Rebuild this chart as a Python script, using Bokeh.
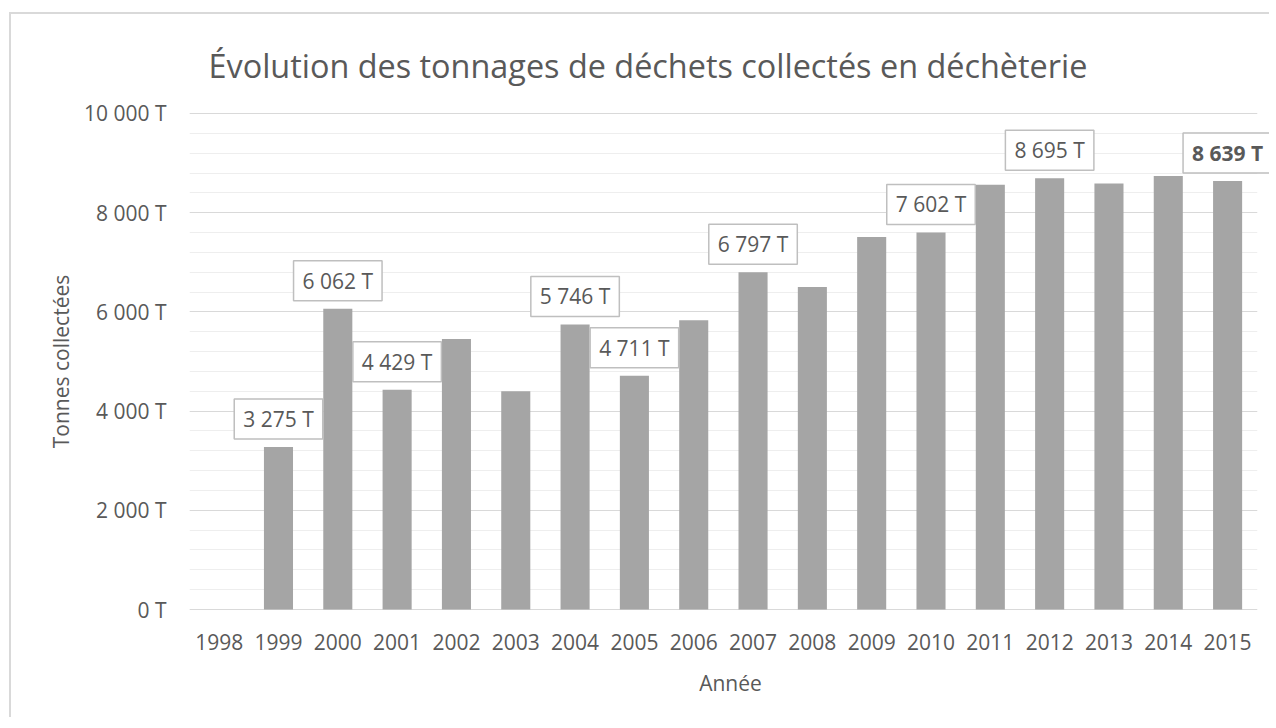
from bokeh.plotting import figure
from bokeh.models import ColumnDataSource, Range1d, FixedTicker, Label, BoxAnnotation
from bokeh.embed import file_html
from bokeh.resources import INLINE

# ---- data ----
years = [str(y) for y in range(1998, 2016)]
tonnages = [float("nan"), 3275, 6062, 4429, 5455, 4402, 5746, 4711, 5833,
            6797, 6501, 7512, 7602, 8561, 8695, 8588, 8742, 8639]
labelled_years = ["1999", "2000", "2001", "2004", "2005", "2007", "2010", "2012"]
highlight_year = "2015"
y_ticks = [0, 2000, 4000, 6000, 8000, 10000]
y_tick_labels = ["0 T", "2 000 T", "4 000 T", "6 000 T", "8 000 T", "10 000 T"]
y_minor_step = 400

title_text = "Évolution des tonnages de déchets collectés en déchèterie"
x_title = "Année"
y_title = "Tonnes collectées"

FONT = "Open Sans"
TXT = "#595959"


def fmt(v):
    return f"{int(v):,}".replace(",", " ") + " T"


# category slots: one unit per year, bar at the slot centre
slot = [i + 0.5 for i in range(len(years))]
src = ColumnDataSource(dict(x=slot, year=years, t=tonnages))

n = len(years)
p = figure(
    # a little room to the right of the last slot so the last data label is not cut
    x_range=Range1d(0, n + 0.24),
    # a hair of room above/below so top and zero gridlines are not clipped
    y_range=Range1d(-y_ticks[-1] * 0.002, y_ticks[-1] * 1.002),
    width=1260, height=705,
    output_backend="svg", toolbar_location=None,
    min_border_left=178, min_border_right=0, min_border_top=97, min_border_bottom=109,
    margin=(12, 0, 0, 9),
    styles={"border-top": "2px solid #D9D9D9", "border-left": "2px solid #D9D9D9"},
    title=title_text,
)
p.outline_line_color = None
p.background_fill_color = "white"
p.border_fill_color = "white"

p.title.align = "left"
p.title.offset = 19
p.title.standoff = 52
p.title.text_font = FONT
p.title.text_font_size = "32.4px"
p.title.text_font_style = "normal"
p.title.text_color = TXT

p.vbar(x="x", top="t", width=0.49, source=src, fill_color="#A5A5A5", line_color=None)

# axes
xa = p.xaxis[0]
xa.ticker = FixedTicker(ticks=slot, minor_ticks=[])
xa.major_label_overrides = dict(zip(slot, years))
xa.axis_line_color = None
xa.major_tick_line_color = None
xa.minor_tick_line_color = None
xa.major_label_text_font = FONT
xa.major_label_text_font_size = "21px"
xa.major_label_text_color = TXT
xa.major_label_standoff = 17
xa.axis_label = x_title
xa.axis_label_text_font = FONT
xa.axis_label_text_font_size = "21px"
xa.axis_label_text_font_style = "normal"
xa.axis_label_text_color = TXT
xa.axis_label_standoff = 16

minor = list(range(0, y_ticks[-1] + 1, y_minor_step))
ya = p.yaxis[0]
ya.ticker = FixedTicker(ticks=y_ticks, minor_ticks=minor)
ya.major_label_overrides = dict(zip(y_ticks, y_tick_labels))
ya.axis_line_color = None
ya.major_tick_line_color = None
ya.minor_tick_line_color = None
ya.major_label_text_font = FONT
ya.major_label_text_font_size = "21px"
ya.major_label_text_color = TXT
ya.major_label_standoff = 17
ya.axis_label = y_title
ya.axis_label_text_font = FONT
ya.axis_label_text_font_size = "21px"
ya.axis_label_text_font_style = "normal"
ya.axis_label_text_color = TXT
ya.axis_label_standoff = 6

p.xgrid.grid_line_color = None
p.ygrid.grid_line_color = "#D9D9D9"
p.ygrid.grid_line_width = 1
p.ygrid.minor_grid_line_color = "#EEEEEE"
p.ygrid.minor_grid_line_width = 1

# gridlines stop at the end of the last category slot
p.add_layout(BoxAnnotation(left=n, fill_color="white", fill_alpha=1,
                           line_color=None, level="underlay"))

# data labels
for xs, yr, v in zip(slot, years, tonnages):
    if yr in labelled_years or yr == highlight_year:
        lab = Label(
            x=xs, y=v, text=fmt(v),
            text_align="center", text_baseline="bottom",
            y_offset=8, padding=(9, 6),
            background_fill_color="white",
            border_line_color="#BFBFBF", border_line_width=1.5,
            text_font=FONT, text_font_size="21px", text_color=TXT,
            text_font_style="bold" if yr == highlight_year else "normal",
            level="overlay",
        )
        p.add_layout(lab)

open("out.html", "w").write(file_html(p, INLINE))
